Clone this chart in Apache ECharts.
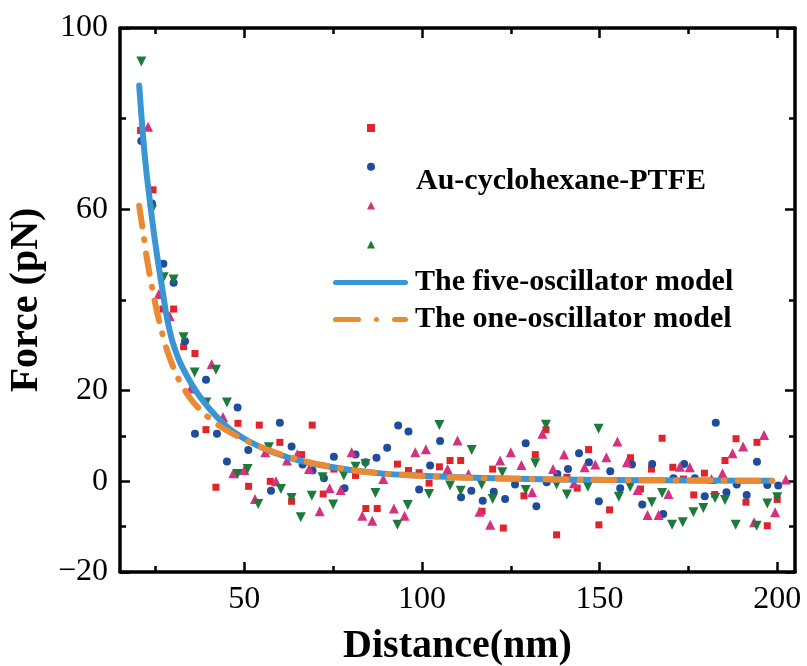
<!DOCTYPE html>
<html><head><meta charset="utf-8">
<script src="https://cdn.jsdelivr.net/npm/echarts@6/dist/echarts.min.js"></script>
<style>html,body{margin:0;padding:0;background:#fff}#c{width:807px;height:666px}</style>
</head><body><div id="c"></div>
<script>
// ---- axis ticks / labels ----
const xMajorTicks = [50, 100, 150, 200];
const xMinorTicks = [25, 75, 125, 175];
const yMajorTicks = [-20, 0, 20, 60, 100];
const yMinorTicks = [-10, 10, 40, 80];
const xTitle = 'Distance(nm)';
const yTitle = 'Force (pN)';
const groupLabel = 'Au-cyclohexane-PTFE';
const lineNames = ['The five-oscillator model', 'The one-oscillator model'];

// ---- scatter data [distance, force] ----
const redSquares = [[20.8,77.4],[24.3,64.3],[27.1,38.0],[30.1,38.0],[32.9,29.7],[36.1,28.2],[39.2,11.4],[42.0,-1.3],[48.2,12.8],[51.2,-1.1],[54.2,12.4],[57.3,0],[60.0,8.6],[63.3,-4.4],[66.1,5.9],[69.1,12.4],[72.2,-2.8],[75.2,2.7],[81.3,1.3],[84.2,-6.0],[87.4,-6.0],[93.1,3.8],[96.2,2.4],[99.2,1.9],[102.0,-0.4],[104.9,3.2],[107.9,4.6],[110.9,4.6],[116.9,-6.6],[119.9,2.7],[122.9,-10.3],[128.7,-3.2],[131.9,5.9],[134.9,11.4],[137.9,-11.8],[140.8,0.9],[143.7,-1.5],[146.9,7.0],[149.8,-9.6],[152.8,-6.3],[158.7,5.2],[161.5,-1.7],[164.6,2.7],[167.6,9.5],[170.6,3.1],[173.6,0.5],[176.5,-3.0],[179.5,1.8],[182.4,-2.9],[185.3,4.6],[188.4,9.4],[191.2,-4.6],[194.3,8.6],[197.2,-9.8],[200.0,-4.0]];
const blueCircles = [[21.0,75.1],[24.0,61.3],[27.2,48.0],[30.1,43.8],[33.3,30.9],[36.1,10.5],[39.2,22.4],[42.3,10.5],[45.1,4.4],[48.1,16.3],[51.1,6.9],[57.5,-2.1],[60.0,12.9],[63.3,7.7],[66.4,3.7],[69.2,2.4],[72.4,0.7],[75.2,5.4],[78.2,-1.5],[81.3,5.9],[84.1,4.2],[87.2,5.2],[90.2,7.4],[93.3,12.3],[96.2,11.0],[99.2,-1.8],[102.3,3.5],[105.1,8.9],[111.0,-3.5],[113.9,-2.1],[117.1,-4.3],[120.2,-2.3],[123.4,-3.9],[126.2,-0.7],[129.2,8.4],[132.2,-5.5],[135.1,-0.2],[138.1,1.6],[141.1,2.7],[144.2,6.2],[147.0,4.2],[149.8,-4.4],[153.0,2.2],[155.8,-1.5],[159.1,3.7],[162.0,-5.1],[164.8,3.8],[167.9,-7.2],[170.8,0.7],[173.8,3.8],[176.8,0.7],[179.6,-3.3],[182.7,12.9],[185.7,-2.4],[188.6,-0.7],[191.4,-3.0],[194.3,4.3],[197.2,-0.8],[200.3,-0.9]];
const magentaTriangles = [[22.9,78.2],[25.9,41.3],[29.0,36.4],[34.9,20.5],[40.8,25.9],[44.0,14.2],[46.9,1.8],[50.0,2.5],[53.0,-3.9],[55.9,6.4],[58.9,0],[62.0,4.6],[64.9,6.0],[68.2,2.7],[71.2,-6.6],[74.0,-1.5],[77.1,-1.9],[80.2,6.4],[83.2,-7.6],[86.0,-8.7],[89.1,0.5],[92.1,-6.0],[95.1,-7.6],[98.1,6.4],[101.1,7.1],[107.2,2.7],[110.0,9.0],[113.1,1.6],[116.2,-6.7],[119.2,-9.6],[122.0,4.6],[125.0,6.4],[128.0,3.6],[131.0,-2.4],[133.9,10.5],[136.9,2.7],[140.0,5.9],[142.8,-0.4],[145.8,3.1],[148.8,3.7],[151.9,5.3],[155.0,8.8],[157.7,4.2],[160.7,-1.9],[163.5,-7.4],[166.6,-7.4],[169.4,-2.8],[172.6,3.2],[175.4,3.1],[181.5,0.5],[184.6,1.8],[187.4,6.2],[190.4,7.7],[193.5,-9.0],[196.3,10.2],[199.4,-6.8],[202.4,0.4]];
const greenDownTriangles = [[21.0,92.6],[24.0,59.9],[27.3,45.0],[30.1,44.5],[32.9,31.8],[36.0,24.0],[39.3,17.4],[42.0,24.6],[45.1,17.4],[48.1,1.6],[50.9,2.7],[53.9,-5.0],[56.9,7.5],[60.3,-1.7],[63.3,-3.7],[65.9,-7.9],[69.0,-3.2],[72.0,0.9],[75.0,-5.1],[78.0,1.3],[81.3,3.2],[84.1,3.8],[86.9,-2.6],[93.1,-9.6],[96.0,-5.2],[102.0,-2.8],[104.9,12.4],[107.9,-0.9],[110.9,-2.1],[114.0,6.9],[116.8,-0.7],[119.9,-3.9],[122.6,2.0],[129.2,-1.9],[131.9,4.0],[134.9,12.5],[137.9,-0.7],[140.8,-2.9],[146.7,-1.2],[149.7,11.6],[155.4,-3.4],[158.6,-1.2],[164.7,-4.6],[167.6,-2.6],[170.4,-9.6],[173.4,-9.0],[176.4,-6.8],[179.2,-5.9],[182.5,-3.7],[185.3,-4.1],[188.3,-9.6],[194.2,-9.8],[197.2,-4.9],[200.0,-3.5]];

// ---- model curves [distance, force] ----
const fiveOscillator = [[20.4,87.3],[21.5,75.9],[22.4,68.5],[23.5,61.2],[24.7,53.8],[26.1,46.4],[27.0,42.0],[28.0,37.0],[29.0,33.2],[29.9,30.5],[31.7,26.6],[34.1,22.9],[36.9,19.3],[40.6,15.6],[45.3,11.9],[50.0,9.4],[55.6,7.2],[60.3,5.8],[64.0,4.9],[70.6,3.7],[79.9,2.5],[89.2,1.7],[98.6,1.3],[107.9,0.95],[117.3,0.75],[130.4,0.5],[145,0.35],[160,0.25],[175,0.2],[190,0.15],[198.6,0.12]];
const oneOscillator = [[20.4,60.8],[21.5,55.0],[22.6,49.0],[24.7,40.0],[26.6,33.5],[28.5,28.3],[31.3,22.8],[34.6,18.5],[37.8,15.6],[42.5,12.5],[48.1,9.9],[53.7,7.9],[59.3,6.2],[65.0,4.9],[70.6,3.8],[79.9,2.5],[89.2,1.7],[98.6,1.25],[107.9,0.9],[117.3,0.7],[130.4,0.5],[145,0.35],[160,0.25],[175,0.2],[190,0.15],[198.6,0.12]];

const FONT = 'Liberation Serif';
const X_MIN = 15, X_MAX = 205, Y_MIN = -20, Y_MAX = 100;

function mkAxis(kind, pos, ticks, len, showLine, labels, extra) {
  const a = {
    type: 'value', position: pos,
    min: kind === 'x' ? X_MIN : Y_MIN, max: kind === 'x' ? X_MAX : Y_MAX,
    splitLine: { show: false },
    axisLine: { show: showLine, onZero: false, lineStyle: { color: '#000', width: 3.5 } },
    axisTick: { show: true, inside: true, length: len, customValues: ticks, lineStyle: { color: '#000', width: 2.5 } },
    axisLabel: labels ? {
      show: true, customValues: labels, color: '#000', fontFamily: FONT, fontSize: 32, margin: 12,
      formatter: v => String(v).replace('-', '\u2212')
    } : { show: false }
  };
  return Object.assign(a, extra || {});
}

const chart = echarts.init(document.getElementById('c'), null, { renderer: 'canvas' });
const scatterDefs = [
  { name: groupLabel + ' 1', data: redSquares, symbol: 'rect', size: 7, color: '#e0242b', rot: 0 },
  { name: groupLabel + ' 2', data: blueCircles, symbol: 'circle', size: 8, color: '#1f4c9c', rot: 0 },
  { name: groupLabel + ' 3', data: magentaTriangles, symbol: 'triangle', size: 10, color: '#d6307f', rot: 0 },
  { name: groupLabel + ' 4', data: greenDownTriangles, symbol: 'triangle', size: 10, color: '#1e7a3b', rot: 180 }
];

const series = scatterDefs.map(d => ({
  type: 'scatter', name: d.name, data: d.data, symbol: d.symbol, symbolSize: d.size,
  symbolRotate: d.rot, itemStyle: { color: d.color, opacity: 1 }, z: 2, silent: true
}));
series.push({
  type: 'line', name: lineNames[0], data: fiveOscillator, showSymbol: false, symbol: 'none',
  smooth: 0.3, z: 3,
  lineStyle: { color: '#3a95d5', width: 6, cap: 'round', join: 'round' }, itemStyle: { color: '#3a95d5' }
});
series.push({
  type: 'line', name: lineNames[1], data: oneOscillator, showSymbol: false, symbol: 'none',
  smooth: 0.3, z: 4,
  lineStyle: { color: '#ea8a32', width: 6, cap: 'round', join: 'round', type: [21, 13, 1, 13] }, itemStyle: { color: '#ea8a32' }
});

const solidIcon = 'path://M2.5,0h70a2.5,2.5 0 0 1 0,5h-70a2.5,2.5 0 0 1 0,-5z';
const dashDotIcon = 'path://M2.5,0h23a2.5,2.5 0 0 1 0,5h-23a2.5,2.5 0 0 1 0,-5z M43.5,0a2.5,2.5 0 0 1 0,5a2.5,2.5 0 0 1 0,-5z M61.5,0h11a2.5,2.5 0 0 1 0,5h-11a2.5,2.5 0 0 1 0,-5z';

chart.setOption({
  animation: false,
  backgroundColor: '#fff',
  grid: { left: 120, right: 12, top: 28, bottom: 94, containLabel: false, outerBoundsMode: 'none' },
  xAxis: [
    mkAxis('x', 'bottom', xMajorTicks, 10, true, xMajorTicks, {
      name: xTitle, nameLocation: 'middle', nameGap: 55,
      nameTextStyle: { fontFamily: FONT, fontSize: 40, fontWeight: 'bold', color: '#000' }
    }),
    mkAxis('x', 'bottom', xMinorTicks, 6, false, null),
    mkAxis('x', 'top', xMajorTicks, 10, true, null),
    mkAxis('x', 'top', xMinorTicks, 6, false, null)
  ],
  yAxis: [
    mkAxis('y', 'left', yMajorTicks, 10, true, yMajorTicks, {
      name: yTitle, nameLocation: 'middle', nameGap: 64,
      nameTextStyle: { fontFamily: FONT, fontSize: 40, fontWeight: 'bold', color: '#000' }
    }),
    mkAxis('y', 'left', yMinorTicks, 6, false, null),
    mkAxis('y', 'right', yMajorTicks, 10, true, null),
    mkAxis('y', 'right', yMinorTicks, 6, false, null)
  ],
  legend: [
    {
      data: scatterDefs.map(d => d.name), orient: 'vertical', left: 367, top: 124, padding: 0,
      itemWidth: 8, itemHeight: 8, itemGap: 30.8, formatter: () => '',
      textStyle: { fontSize: 8 }, selectedMode: false
    },
    {
      data: [{ name: lineNames[0], icon: solidIcon }, { name: lineNames[1], icon: dashDotIcon }],
      orient: 'vertical', left: 333, top: 264, padding: 0, itemWidth: 75, itemHeight: 5, itemGap: 0,
      selectedMode: false,
      textStyle: { fontFamily: FONT, fontSize: 30, fontWeight: 'bold', color: '#000', lineHeight: 37, padding: [0, 0, 0, 2] }
    }
  ],
  graphic: [{
    type: 'text', left: 416, top: 166,
    style: { text: groupLabel, font: 'bold 30px "Liberation Serif"', fill: '#000' }
  }],
  series: series
});
</script></body></html>
